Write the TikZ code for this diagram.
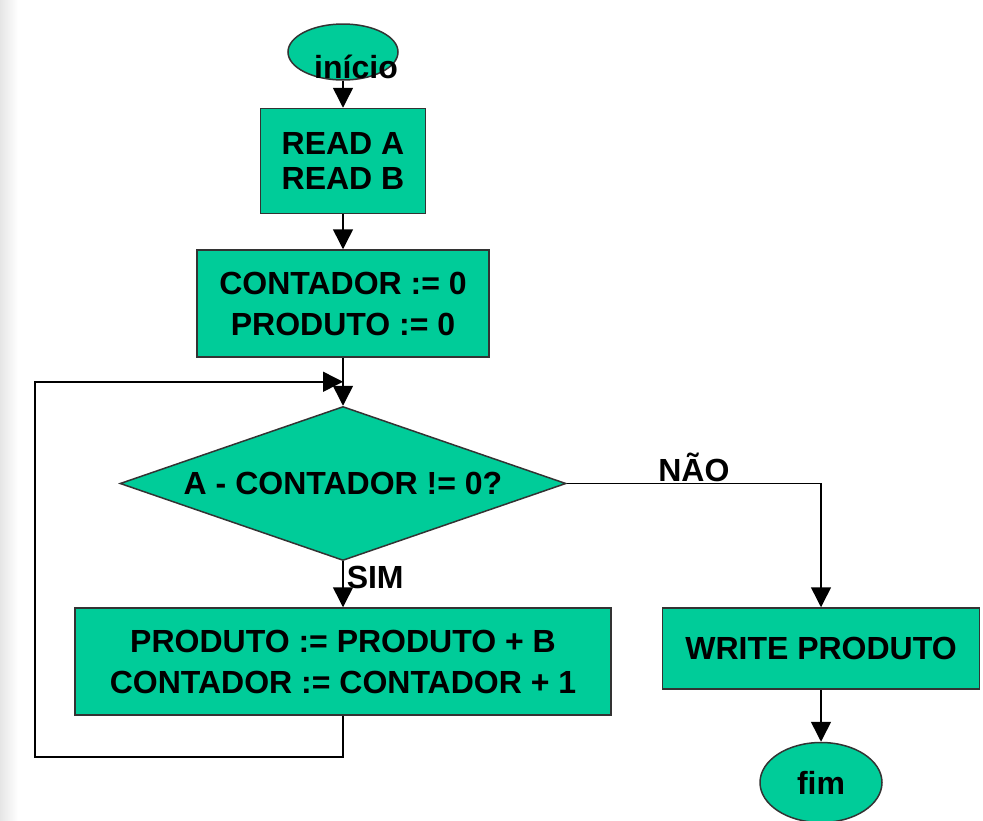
\documentclass[tikz,border=0pt]{standalone}
\usepackage{fontspec}
\setmainfont{Liberation Sans}
\usetikzlibrary{shapes.geometric, positioning, arrows.meta, calc}

\definecolor{flowgreen}{RGB}{0,204,153}

\tikzset{
	box/.style={draw=black!80, line width=1.5pt, fill=flowgreen, align=center, inner sep=0pt, font=\fontsize{32}{41}\selectfont\bfseries},
	process/.style={box, rectangle},
	decision/.style={box, diamond, aspect=2.9},
	terminal/.style={box, ellipse},
	tag/.style={font=\fontsize{32}{41}\selectfont\bfseries, inner sep=2pt},
	flow/.style={line width=1.5pt, black, -{Triangle[length=20pt, width=20pt]}},
}

\begin{document}
\begin{tikzpicture}[x=1pt, y=1pt]
		
		\useasboundingbox (0,0) rectangle (983,-820);
		\fill[left color=black!10, right color=white] (0,0) rectangle (18,-820);
		
		\node[terminal, minimum width=110pt, minimum height=56pt] (inicio) at (343,-52) {};
		\node[tag, anchor=base, inner sep=0pt] (iniciotext) at (356,-78) {início};
		\node[process, below=27pt of inicio, minimum width=165pt, minimum height=105pt, font=\fontsize{32}{35}\selectfont\bfseries] (read) {READ A\\READ B};
		\node[process, below=35pt of read, minimum width=292pt, minimum height=107pt] (init) {CONTADOR := 0\\PRODUTO := 0};
		\node[decision, below=48pt of init, minimum width=446pt, minimum height=154pt] (test) {A - CONTADOR != 0?};
		\node[process, below=46pt of test, minimum width=536pt, minimum height=107pt] (body) {PRODUTO := PRODUTO + B\\CONTADOR := CONTADOR + 1};
		\node[process, right=50pt of body.north east, anchor=north west, minimum width=317pt, minimum height=81pt] (write) {WRITE PRODUTO};
		\node[terminal, below=52pt of write, minimum width=122pt, minimum height=80pt] (fim) {fim};
		
		\coordinate (join) at ($(init.south)!0.5!(test.north)$);
		\coordinate (loopleft) at (35,-757);
		
		\draw[flow] (inicio) -- (read);
		\draw[flow] (read) -- (init);
		\draw[flow] (init) -- (test);
		\draw[flow] (test) -- node[tag, pos=0.35, right, inner sep=3pt] (sim) {SIM} (body);
		\draw[flow] (test.east) -| node[tag, pos=0.25, above, inner sep=1pt] (nao) {NÃO} (write.north);
		\draw[flow] (write) -- (fim);
		\draw[flow] (body.south) |- (loopleft) |- (join);
		
\end{tikzpicture}
\end{document}
